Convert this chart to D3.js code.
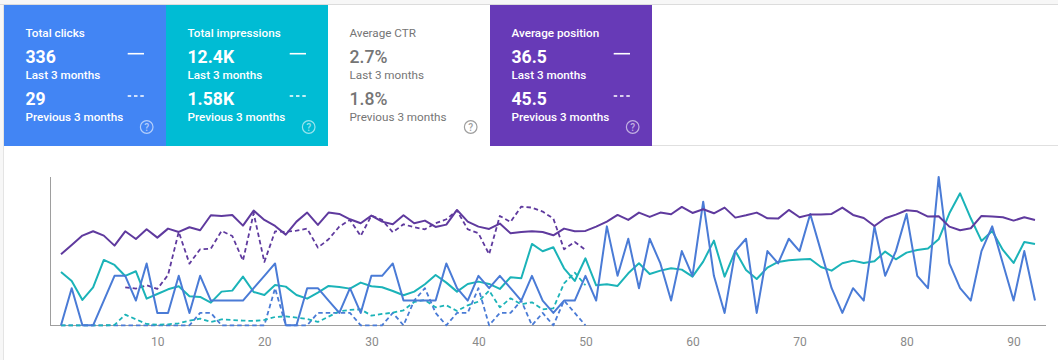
<!DOCTYPE html>
<html><head><meta charset="utf-8">
<script src="https://d3js.org/d3.v7.min.js"></script>
<style>html,body{margin:0;padding:0;background:#fff}svg{display:block}</style>
</head><body><svg id="c" width="1058" height="360"></svg>
<script>
// Days on the x axis: 1..92.
const tickLabels = [10,20,30,40,50,60,70,80,90];
const cardTitles = ["Total clicks","Total impressions","Average CTR","Average position"];
const cardLast = ["336","12.4K","2.7%","36.5"];
const cardPrev = ["29","1.58K","1.8%","45.5"];
const cardFill = ["#4285f4","#00bcd4","#ffffff","#673ab7"];
const cardText = ["#ffffff","#ffffff","#757575","#ffffff"];
const periodLast = "Last 3 months";
const periodPrev = "Previous 3 months";

const clicksLast = [0,3,0,0,2,4,4,2,5,1,1,4,1,4,2,2,2,2,3,4,5,0,0,3,3,2,1,3,1,4,4,5,2,2,2,2,5,3,2,4,3,4,3,2,4,2,1,2,2,4,2,8,4,7,3,7,5,2,6,4,10,4,1,6,7,1,6,5,7,6,9,6,3,1,3,2,8,4,6,9,4,3,12,5,3,2,6,8,5,2,6,2];
const clicksPrev = [0,0,0,0,0,0,0,0,0,0,0,0,0,1,1,0,0,0,0,0,3,0,0,0,1,1,1,1,0,0,0,1,0,2,3,1,0,1,1,3,0,1,1,2,0,1,0,2,1,0];
// Impressions and position are on their own scales; heights above the baseline, 0..446 of the plot.
const imprLast = [160,133,76,114,196,181,148,162,80,94,108,117,87,85,68,101,104,146,100,91,121,116,91,80,98,118,115,110,128,117,114,103,90,101,123,151,128,101,124,131,124,109,144,141,244,222,234,171,133,201,120,123,118,156,186,154,164,171,167,146,191,254,146,223,166,139,173,190,195,197,199,175,164,186,194,187,192,221,198,218,226,230,258,336,396,321,253,283,226,187,250,244];
const imprPrev = [0,0,0,0,0,1,32,18,4,2,3,6,14,20,10,18,16,14,13,16,25,27,23,19,10,26,42,46,48,29,34,38,45,70,76,54,60,43,60,71,104,54,81,63,69,48,51,126,158,120];
const posLast = [213,241,269,282,269,239,282,259,288,263,290,280,294,285,330,328,331,299,344,316,298,272,311,338,301,338,334,318,306,329,311,303,330,306,314,295,302,346,311,296,289,305,276,280,282,280,270,290,282,283,296,311,331,316,338,325,338,333,355,337,348,336,353,323,330,338,321,320,346,324,332,332,334,353,331,322,298,321,332,345,342,326,327,296,285,291,328,326,324,314,324,316];
const posPrev = [null,null,null,null,null,null,114,110,120,109,151,280,185,228,230,283,268,194,336,190,282,280,284,290,233,258,296,316,268,329,316,279,303,294,288,306,318,344,288,276,213,328,310,356,353,341,320,228,250,226];

const colBlue="#4a7bd6", colTeal="#1bb3b8", colPurple="#5f3a9e";
const svg=d3.select("#c");
const W=1058;
svg.append("rect").attr("x",0).attr("y",0).attr("width",W).attr("height",4).attr("fill","#f7f7f7");
svg.append("rect").attr("x",0).attr("y",4).attr("width",W).attr("height",1).attr("fill","#dcdcdc");
svg.append("rect").attr("x",3).attr("y",145).attr("width",W-3).attr("height",1).attr("fill","#e0e0e0");
svg.append("rect").attr("x",0).attr("y",5).attr("width",3).attr("height",355).attr("fill","#f7f7f7");
svg.append("rect").attr("x",3).attr("y",5).attr("width",1).attr("height",355).attr("fill","#e4e4e4");

const cardScale=d3.scaleBand().domain(d3.range(4)).range([4,652]);
const font="Roboto, sans-serif";
const cards=svg.selectAll("g.card").data(cardTitles).join("g").attr("class","card")
 .attr("transform",(d,i)=>`translate(${cardScale(i)},5)`);
cards.append("rect").attr("width",cardScale.bandwidth()).attr("height",141).attr("fill",(d,i)=>cardFill[i]);
cards.each(function(d,i){
 const g=d3.select(this), c=cardText[i], bold=i===2?500:700, tw=i===2?400:500;
 const T=(x,y,s,wt,t)=>g.append("text").attr("x",x).attr("y",y).attr("font-family",font).attr("font-size",s).attr("font-weight",wt).attr("fill",c).text(t);
 T(21.5,32,11.7,tw,cardTitles[i]);
 T(21.5,58,17.6,bold,cardLast[i]);
 T(21.5,74,11.7,tw,periodLast);
 T(21.5,100,17.6,bold,cardPrev[i]);
 T(21.5,116,11.7,tw,periodPrev);
 if(i!==2){
  g.append("line").attr("x1",123.7).attr("x2",140).attr("y1",48.7).attr("y2",48.7).attr("stroke",c).attr("stroke-width",1.6);
  g.append("line").attr("x1",123.7).attr("x2",140).attr("y1",91).attr("y2",91).attr("stroke",c).attr("stroke-width",1.6).attr("stroke-dasharray","3.5 2.8");
 }
 const hc=i===2?"#9e9e9e":"rgba(255,255,255,.6)";
 g.append("circle").attr("cx",142.7).attr("cy",122).attr("r",6.3).attr("fill","none").attr("stroke",hc).attr("stroke-width",1.2);
 g.append("text").attr("x",142.7).attr("y",125.6).attr("text-anchor","middle").attr("font-family",font).attr("font-size",10).attr("font-weight",500).attr("fill",hc).text("?");
});

const x=d3.scaleLinear().domain([1,92]).range([61,1035]);
const yClicks=d3.scaleLinear().domain([0,12]).range([325.3,176.9]);
const yOther=d3.scaleLinear().domain([0,446]).range([325.3,176.6]);
const line=y=>d3.line().defined(v=>v!==null).x((v,i)=>x(i+1)).y(v=>y(v));

const axis=svg.append("g").attr("transform","translate(0,325.5)")
 .call(d3.axisBottom(x).tickValues(tickLabels).tickSize(0).tickPadding(12));
axis.select(".domain").remove();
axis.selectAll("text").attr("font-family",font).attr("font-size",12).attr("fill","#8a8a8a");
svg.append("line").attr("x1",50.5).attr("x2",50.5).attr("y1",177).attr("y2",325.5).attr("stroke","#9e9e9e");
svg.append("line").attr("x1",50).attr("x2",1046).attr("y1",325.5).attr("y2",325.5).attr("stroke","#9e9e9e");

const series=[
 [clicksPrev,yClicks,colBlue,true],[imprPrev,yOther,colTeal,true],[posPrev,yOther,colPurple,true],
 [imprLast,yOther,colTeal,false],[clicksLast,yClicks,colBlue,false],[posLast,yOther,colPurple,false]];
series.forEach(([v,y,c,dash])=>{
 svg.append("path").attr("d",line(y)(v)).attr("fill","none").attr("stroke",c).attr("stroke-width",dash?1.8:2)
  .attr("stroke-linejoin","round").attr("stroke-dasharray",dash?"4.5 3":null);
});
</script></body></html>
